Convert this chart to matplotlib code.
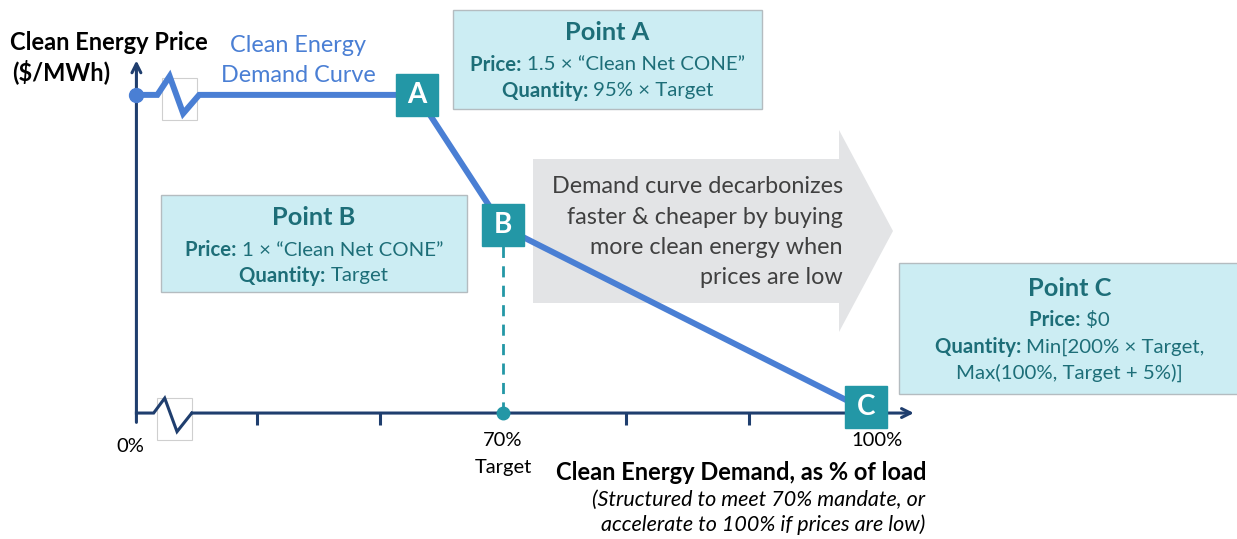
import numpy as np
import matplotlib.pyplot as plt
from matplotlib.patches import Rectangle, Polygon
from matplotlib.transforms import offset_copy

plt.rcParams['font.family'] = ['Lato', 'DejaVu Sans']

## the data (schematic: x in % of load, y in drawn price units, C = 0, B = 1)
curve_x = [40.2, 41.9, 42.9, 44.0, 45.3, 63.0, 70.0, 100.0]
curve_y = [1.71, 1.71, 1.81, 1.61, 1.71, 1.71, 1.00, 0.00]
point_names = ['A', 'B', 'C']
point_x = [63.0, 70.0, 100.0]
point_y = [1.71, 1.00, 0.00]
target_x = 70.0
target_y = 1.00
axis_origin = 40.2
xbreak_x = [40.2, 41.6, 42.5, 43.5, 44.7]
xbreak_y = [0.0, 0.0, 0.08, -0.10, 0.0]
tick_x = [50, 60, 80, 90]

## colours
navy = '#1f3e6e'
blue = '#4a7fd4'
teal = '#2397a6'
darkteal = '#1d6e78'
boxfill = '#ccedf3'
boxedge = '#b4bcc0'

W, H = 1237, 539
def fx(x):
    return x / W
def fy(y):
    return 1 - y / H

fig = plt.figure(figsize=(12.37, 5.39), dpi=100)
ax = fig.add_axes([0, 0, 1, 1])
ax.set_xlim(29.11, 129.67)
ax.set_ylim(-0.677, 2.220)
ax.axis('off')
renderer = fig.canvas.get_renderer()

## big grey arrow behind the curve
arrow_pts = [(533, 159), (839, 159), (839, 130), (893, 231), (839, 332), (839, 303), (533, 303)]
ax.add_patch(Polygon([(fx(a), fy(b)) for a, b in arrow_pts], closed=True,
                     transform=fig.transFigure, facecolor='#e3e4e6', edgecolor='none', zorder=0))
for i, line in enumerate(['Demand curve decarbonizes', 'faster & cheaper by buying',
                          'more clean energy when', 'prices are low']):
    fig.text(fx(843), fy(187 + 30 * i), line, ha='right', va='center', fontsize=16.8, color='#404040')

## break boxes
ax.add_patch(Rectangle((42.3, 1.575), 2.8, 0.225, facecolor='white', edgecolor='#cfcfcf', lw=0.8, zorder=1))
ax.add_patch(Rectangle((41.9, -0.145), 2.8, 0.226, facecolor='white', edgecolor='#cfcfcf', lw=0.8, zorder=1))

## axes
ax.annotate('', xy=(axis_origin, 1.91), xytext=(axis_origin, -0.065),
            arrowprops=dict(arrowstyle='->', color=navy, lw=2.2, mutation_scale=16), zorder=2)
ax.plot(xbreak_x, xbreak_y, color=navy, lw=2.2, solid_joinstyle='miter', zorder=2)
ax.annotate('', xy=(103.4, 0), xytext=(xbreak_x[-1], 0),
            arrowprops=dict(arrowstyle='->', color=navy, lw=2.2, mutation_scale=16,
                            shrinkA=0, shrinkB=0), zorder=2)
ax.vlines(tick_x, -0.065, 0, color=navy, lw=2.2, zorder=2)

## target dashed line and dot
ax.plot([target_x, target_x], [0, target_y], color=teal, lw=2, ls=(0, (4, 3)), zorder=2)
ax.plot(target_x, 0, 'o', color=teal, markersize=9, zorder=4)

## the curve
ax.plot(curve_x, curve_y, color=blue, lw=4.3, solid_joinstyle='miter', zorder=3)
ax.plot(curve_x[0], curve_y[0], 'o', color=blue, markersize=10, zorder=4)

## point markers (small nudges in points so the boxes sit like the original)
nudge_x = [0, 0, -4]
nudge_y = [0, 1.5, 4]
for name, px_, py_, dx, dy in zip(point_names, point_x, point_y, nudge_x, nudge_y):
    tr = offset_copy(ax.transData, fig=fig, x=dx, y=dy, units='points')
    ax.plot(px_, py_, 's', color=teal, markersize=30, zorder=5, transform=tr)
    ax.text(px_, py_, name, ha='center', va='center', color='white', fontsize=20,
            fontweight='bold', zorder=6, transform=tr)

## axis labels
fig.text(fx(10), fy(42), 'Clean Energy Price', ha='left', va='center', fontsize=17, fontweight='bold')
fig.text(fx(12), fy(72), '($/MWh)', ha='left', va='center', fontsize=17, fontweight='bold')
fig.text(fx(298), fy(45), 'Clean Energy', ha='center', va='center', fontsize=16.8, color=blue)
fig.text(fx(298), fy(75), 'Demand Curve', ha='center', va='center', fontsize=16.8, color=blue)
fig.text(fx(130), fy(447), '0%', ha='center', va='center', fontsize=14.5)
fig.text(fx(503), fy(440), '70%', ha='center', va='center', fontsize=14.5)
fig.text(fx(503), fy(468), 'Target', ha='center', va='center', fontsize=14.5)
fig.text(fx(877), fy(440), '100%', ha='center', va='center', fontsize=14.5)
fig.text(fx(926), fy(472), 'Clean Energy Demand, as % of load', ha='right', va='center',
         fontsize=17, fontweight='bold')
fig.text(fx(925), fy(500), '(Structured to meet 70% mandate, or', ha='right', va='center',
         fontsize=15.5, style='italic')
fig.text(fx(925), fy(525), 'accelerate to 100% if prices are low)', ha='right', va='center',
         fontsize=15.5, style='italic')

## info boxes
def rich_line(cx, y, bold, rest, size):
    # bold label followed by regular text, centred as one line
    parts = []
    if bold:
        parts.append(fig.text(0, fy(y), bold + ' ', ha='left', va='center', fontsize=size,
                              fontweight='bold', color=darkteal))
    parts.append(fig.text(0, fy(y), rest, ha='left', va='center', fontsize=size, color=darkteal))
    widths = [t.get_window_extent(renderer).width for t in parts]
    x = cx - sum(widths) / 2
    for t, w in zip(parts, widths):
        t.set_x(fx(x))
        x += w

def info_box(x0, y0, x1, y1, title, rows, ty, dy):
    ax.add_patch(Rectangle((fx(x0), fy(y1)), fx(x1) - fx(x0), fy(y0) - fy(y1),
                           transform=fig.transFigure, facecolor=boxfill, edgecolor=boxedge,
                           lw=1, zorder=1))
    cx = (x0 + x1) / 2
    fig.text(fx(cx), fy(ty), title, ha='center', va='center', fontsize=18.3,
             fontweight='bold', color=darkteal)
    for i, (bold, rest) in enumerate(rows):
        rich_line(cx, ty + dy[i], bold, rest, 14.7)

info_box(453, 10, 762, 109, 'Point A',
         [('Price:', '1.5 × “Clean Net CONE”'), ('Quantity:', '95% × Target')], 33, [32, 58])
info_box(161, 195, 467, 292, 'Point B',
         [('Price:', '1 × “Clean Net CONE”'), ('Quantity:', 'Target')], 218, [32, 58])
info_box(899, 263, 1240, 394, 'Point C',
         [('Price:', '$0'), ('Quantity:', 'Min[200% × Target,'), ('', 'Max(100%, Target + 5%)]')],
         288, [32, 59, 85])

fig.savefig('out.png', dpi=100)
